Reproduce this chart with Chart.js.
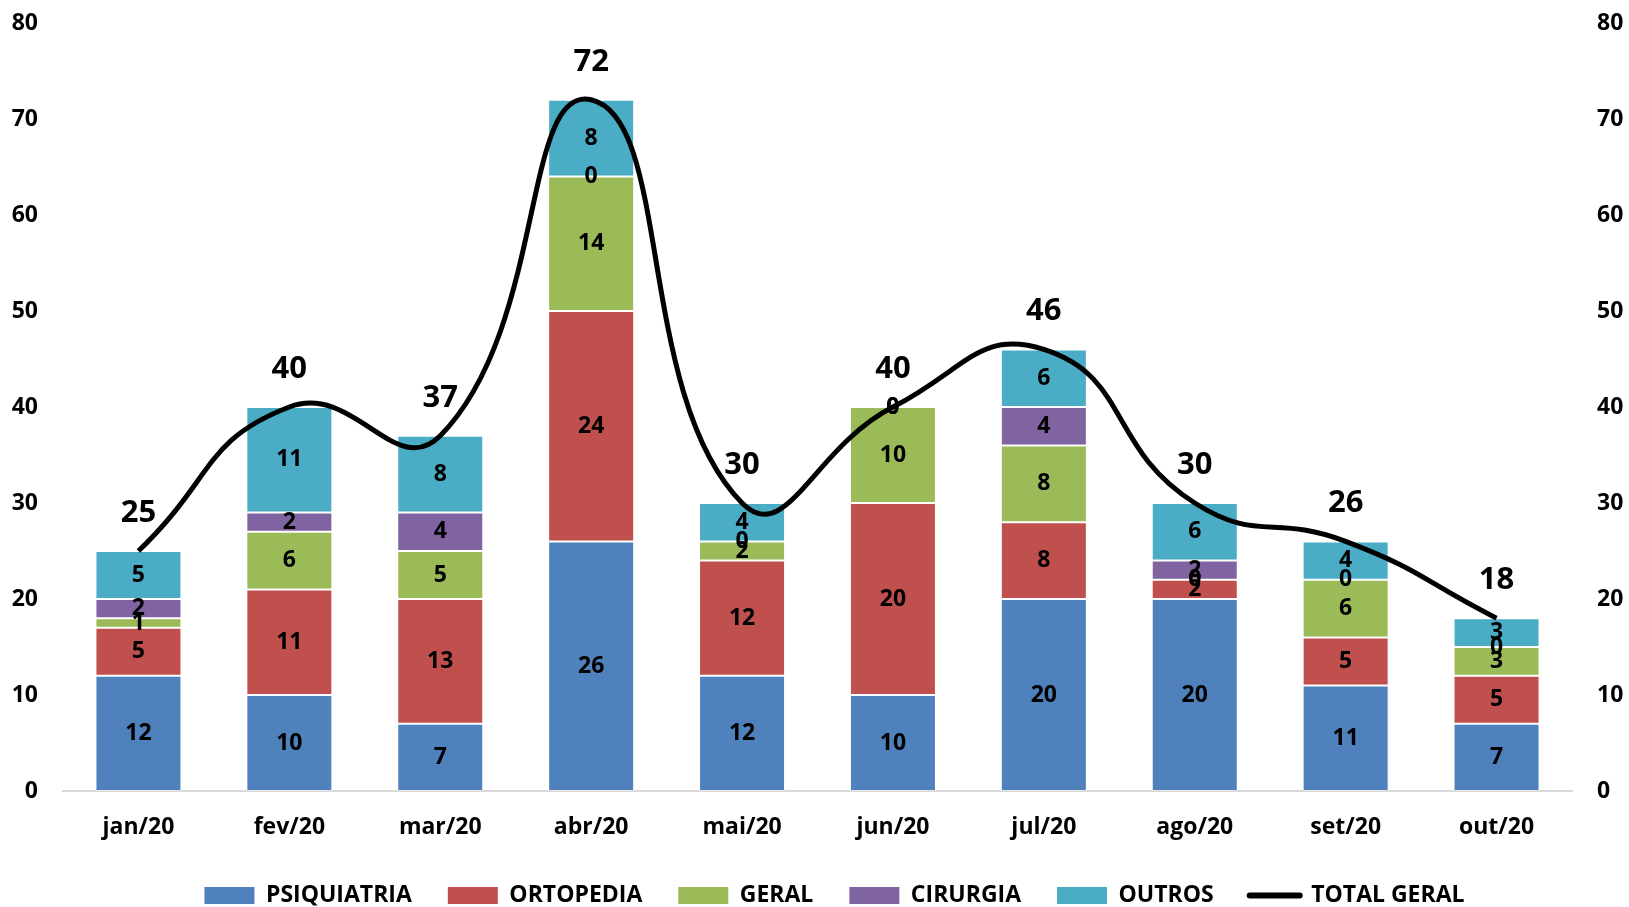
<!DOCTYPE html>
<html>
<head>
<meta charset="utf-8">
<script src="https://cdn.jsdelivr.net/npm/chart.js@4"></script>
<style>
  html, body { margin: 0; padding: 0; background: #fff; }
  #wrap { width: 1629px; height: 907px; position: relative; }
</style>
</head>
<body>
<div id="wrap"><canvas id="chart"></canvas></div>
<script>
const months = ['jan/20', 'fev/20', 'mar/20', 'abr/20', 'mai/20', 'jun/20', 'jul/20', 'ago/20', 'set/20', 'out/20'];
const psiquiatria = [12, 10, 7, 26, 12, 10, 20, 20, 11, 7];
const ortopedia = [5, 11, 13, 24, 12, 20, 8, 2, 5, 5];
const geral = [1, 6, 5, 14, 2, 10, 8, 0, 6, 3];
const cirurgia = [2, 2, 4, 0, 0, 0, 4, 2, 0, 0];
const outros = [5, 11, 8, 8, 4, 0, 6, 6, 4, 3];
const totalGeral = [25, 40, 37, 72, 30, 40, 46, 30, 26, 18];
const axisTicks = [0, 10, 20, 30, 40, 50, 60, 70, 80];

const FONT = "'Open Sans', 'DejaVu Sans', sans-serif";

function barSet(label, data, color) {
    return {
        type: 'bar',
        label: label,
        data: data,
        backgroundColor: color,
        borderColor: 'rgba(255,255,255,0.35)',
        borderWidth: 1,
        borderSkipped: false,
        categoryPercentage: 1,
        barPercentage: 0.57,
        yAxisID: 'y',
        order: 1
    };
}

// draws the value inside each segment and the totals above the line
const valueLabels = {
    id: 'valueLabels',
    afterDatasetsDraw(chart) {
        const ctx = chart.ctx;
        ctx.save();
        ctx.fillStyle = '#000';
        ctx.textAlign = 'center';
        ctx.textBaseline = 'middle';
        chart.data.datasets.forEach((ds, i) => {
            const meta = chart.getDatasetMeta(i);
            if (meta.hidden) return;
            meta.data.forEach((el, j) => {
                if (ds.type === 'line') {
                    ctx.font = "bold 31px " + FONT;
                    ctx.fillText(ds.data[j], el.x, el.y - 38);
                } else {
                    ctx.font = "bold 23px " + FONT;
                    ctx.fillText(ds.data[j], el.x, (el.y + el.base) / 2);
                }
            });
        });
        ctx.restore();
    }
};

// legend in the original sits a bit right of centre
const legendShift = {
    id: 'legendShift',
    afterLayout(chart) {
        if (!chart.legend) return;
        chart.legend.left += 20;
        chart.legend.right += 20;
    }
};

const yTicks = {
    color: '#000',
    padding: 0,
    font: { family: FONT, size: 23, weight: 'bold' },
    stepSize: 10
};
// ticks are hidden, their length only keeps the labels away from the plot
const yGrid = { display: false, drawTicks: true, tickLength: 25 };

new Chart(document.getElementById('chart').getContext('2d'), {
    data: {
        labels: months,
        datasets: [
            barSet('PSIQUIATRIA', psiquiatria, '#4F81BD'),
            barSet('ORTOPEDIA', ortopedia, '#C0504D'),
            barSet('GERAL', geral, '#9BBB59'),
            barSet('CIRURGIA', cirurgia, '#8064A2'),
            barSet('OUTROS', outros, '#4BACC6'),
            {
                type: 'line',
                label: 'TOTAL GERAL',
                data: totalGeral,
                borderColor: '#000',
                backgroundColor: '#000',
                borderWidth: 5,
                tension: 0.5,
                pointRadius: 0,
                yAxisID: 'y2',
                order: 0
            }
        ]
    },
    options: {
        responsive: true,
        maintainAspectRatio: false,
        animation: false,
        layout: { padding: { top: 23, left: 0, right: 0, bottom: -10 } },
        plugins: {
            tooltip: { enabled: false },
            legend: {
                position: 'bottom',
                labels: {
                    color: '#000',
                    font: { family: FONT, size: 23, weight: 'bold' },
                    usePointStyle: true,
                    pointStyleWidth: 50,
                    boxHeight: 17,
                    padding: 36,
                    sort: (a, b) => a.datasetIndex - b.datasetIndex,
                    generateLabels(chart) {
                        const items = Chart.defaults.plugins.legend.labels.generateLabels(chart);
                        items.forEach(it => {
                            const ds = chart.data.datasets[it.datasetIndex];
                            if (ds.type === 'line') {
                                it.pointStyle = 'line';
                                it.strokeStyle = '#000';
                                it.lineWidth = 6;
                                it.lineCap = 'round';
                            } else {
                                it.pointStyle = 'rect';
                                it.lineWidth = 0;
                            }
                        });
                        return items;
                    }
                }
            }
        },
        scales: {
            x: {
                stacked: true,
                grid: { display: false, drawTicks: false },
                border: { display: true, color: '#d9d9d9', width: 2 },
                ticks: {
                    color: '#000',
                    padding: 23,
                    font: { family: FONT, size: 23, weight: 'bold' }
                },
                afterFit(scale) { scale.height = 57; }
            },
            y: {
                stacked: true,
                position: 'left',
                min: axisTicks[0],
                max: axisTicks[axisTicks.length - 1],
                grid: yGrid,
                border: { display: false },
                ticks: yTicks,
                afterFit(scale) { scale.width = 63; }
            },
            y2: {
                position: 'right',
                min: axisTicks[0],
                max: axisTicks[axisTicks.length - 1],
                grid: yGrid,
                border: { display: false },
                ticks: yTicks,
                afterFit(scale) { scale.width = 57; }
            }
        }
    },
    plugins: [valueLabels, legendShift]
});
</script>
</body>
</html>
